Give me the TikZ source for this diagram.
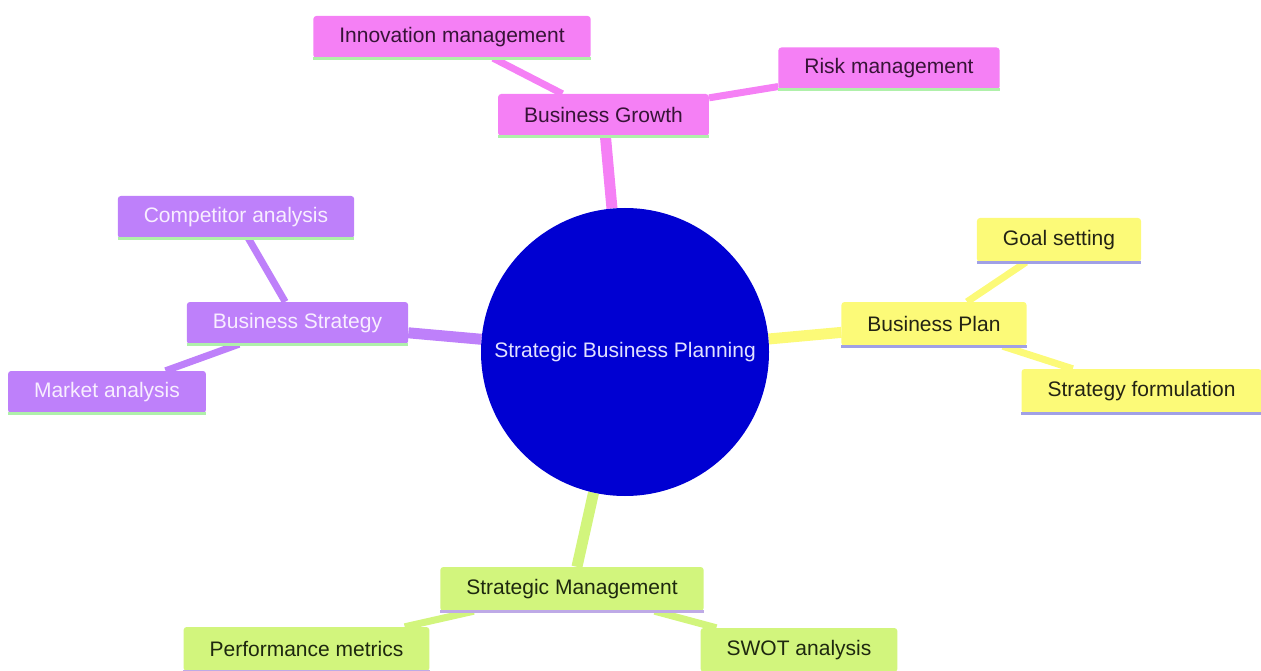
\documentclass[tikz,border=0pt]{standalone}
\usepackage{fontspec}
\setmainfont{Liberation Sans}
\usetikzlibrary{backgrounds}
\definecolor{rootblue}{RGB}{0,0,210}
\definecolor{roottext}{RGB}{225,225,255}
\definecolor{pinkfill}{RGB}{245,128,245}
\definecolor{pinktext}{RGB}{55,20,55}
\definecolor{purplefill}{RGB}{190,128,250}
\definecolor{purpletext}{RGB}{248,238,255}
\definecolor{yellowfill}{RGB}{252,250,120}
\definecolor{yellowtext}{RGB}{35,35,20}
\definecolor{greenfill}{RGB}{210,245,125}
\definecolor{greentext}{RGB}{30,40,15}
\definecolor{greenline}{RGB}{175,240,170}
\definecolor{blueline}{RGB}{160,160,230}
\definecolor{lilacline}{RGB}{190,170,230}

\begin{document}
\begin{tikzpicture}[x=1pt,y=-1pt,
	box/.style={rounded corners=3pt,minimum height=42pt,inner xsep=26pt,inner ysep=0pt,font=\fontsize{21}{25}\selectfont},
	pinkbox/.style={box,fill=pinkfill,text=pinktext},
	purplebox/.style={box,fill=purplefill,text=purpletext},
	yellowbox/.style={box,fill=yellowfill,text=yellowtext,minimum height=44pt},
	greenbox/.style={box,fill=greenfill,text=greentext,minimum height=44pt}]
	\useasboundingbox (0,0) rectangle (1261,671);
	\node[circle,fill=rootblue,minimum size=288pt,inner sep=0pt,text=roottext,font=\fontsize{21}{25}\selectfont] (root) at (625,352) {Strategic Business Planning};
	\node[pinkbox] (growth) at (603.5,115) {Business Growth};
	\node[pinkbox] (innov) at (452,37) {Innovation management};
	\node[pinkbox] (risk) at (889,68.5) {Risk management};
	\node[purplebox] (strategy) at (297.5,323) {Business Strategy};
	\node[purplebox] (compet) at (236,217) {Competitor analysis};
	\node[purplebox] (market) at (107,392) {Market analysis};
	\node[yellowbox] (plan) at (934,324) {Business Plan};
	\node[yellowbox] (goal) at (1059,240) {Goal setting};
	\node[yellowbox] (formul) at (1141.5,391) {Strategy formulation};
	\node[greenbox] (manage) at (572,589) {Strategic Management};
	\node[greenbox] (metrics) at (306.5,649) {Performance metrics};
	\node[greenbox] (swot) at (799,650) {SWOT analysis};
	\begin{scope}[on background layer]
		\foreach \a/\b/\c/\w in {growth/root/pinkfill/11,innov/growth/pinkfill/7,risk/growth/pinkfill/7,strategy/root/purplefill/11,compet/strategy/purplefill/7,market/strategy/purplefill/7,plan/root/yellowfill/11,goal/plan/yellowfill/7,formul/plan/yellowfill/7,manage/root/greenfill/11,metrics/manage/greenfill/7,swot/manage/greenfill/7} \draw[\c,line width=\w pt] (\a) -- (\b);
	\end{scope}
	\foreach \x/\c in {growth/greenline,innov/greenline,risk/greenline,strategy/greenline,compet/greenline,market/greenline,plan/blueline,goal/blueline,formul/blueline,manage/lilacline,metrics/lilacline,swot/lilacline} \draw[\c,line width=3pt] (\x.south west) -- (\x.south east);
\end{tikzpicture}
\end{document}
